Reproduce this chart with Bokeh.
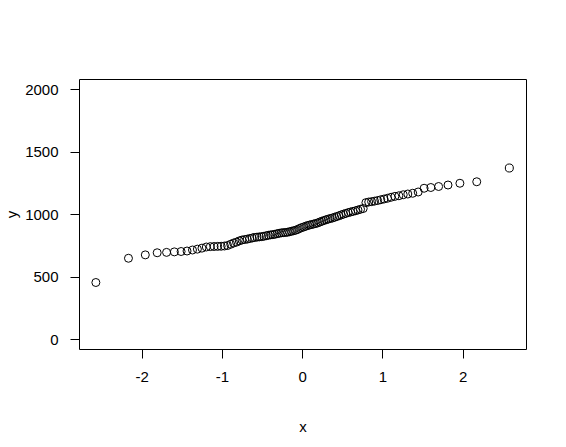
from bokeh.plotting import figure
from bokeh.models import Range1d, FixedTicker
from bokeh.embed import file_html
from bokeh.resources import INLINE

# theoretical normal quantiles (x) and sample values (y)
x_vals = [-2.576, -2.170, -1.960, -1.812, -1.695, -1.598, -1.514, -1.440, -1.372, -1.311,
          -1.254, -1.200, -1.150, -1.103, -1.058, -1.015, -0.974, -0.935, -0.896, -0.860,
          -0.824, -0.789, -0.755, -0.722, -0.690, -0.659, -0.628, -0.598, -0.568, -0.539,
          -0.510, -0.482, -0.454, -0.426, -0.399, -0.372, -0.345, -0.319, -0.292, -0.266,
          -0.240, -0.215, -0.189, -0.164, -0.138, -0.113, -0.088, -0.063, -0.038, -0.013,
          0.013, 0.038, 0.063, 0.088, 0.113, 0.138, 0.164, 0.189, 0.215, 0.240,
          0.266, 0.292, 0.319, 0.345, 0.372, 0.399, 0.426, 0.454, 0.482, 0.510,
          0.539, 0.568, 0.598, 0.628, 0.659, 0.690, 0.722, 0.755, 0.789, 0.824,
          0.860, 0.896, 0.935, 0.974, 1.015, 1.058, 1.103, 1.150, 1.200, 1.254,
          1.311, 1.372, 1.440, 1.514, 1.598, 1.695, 1.812, 1.960, 2.170, 2.576]
y_vals = [456, 650, 677, 694, 697, 701, 704, 708, 716, 723,
          731, 740, 743, 744, 745, 746, 748, 752, 762, 772,
          779, 789, 796, 800, 803, 808, 812, 816, 819, 821,
          823, 826, 830, 834, 837, 839, 842, 846, 850, 853,
          855, 856, 858, 862, 866, 870, 874, 880, 888, 895,
          900, 906, 912, 916, 920, 924, 928, 933, 940, 946,
          952, 958, 963, 968, 972, 978, 984, 990, 997, 1003,
          1009, 1015, 1020, 1025, 1030, 1036, 1042, 1048, 1095, 1100,
          1103, 1107, 1112, 1118, 1124, 1130, 1138, 1145, 1150, 1158,
          1164, 1170, 1180, 1210, 1216, 1224, 1236, 1250, 1262, 1372]
x_ticks = [-2, -1, 0, 1, 2]
x_tick_labels = ["-2", "-1", "0", "1", "2"]
y_ticks = [0, 500, 1000, 1500, 2000]

FONT = "Liberation Sans"

p = figure(width=558, height=439, output_backend="svg", toolbar_location=None,
           x_range=Range1d(-2.78, 2.79), y_range=Range1d(-80, 2080),
           min_border_left=79, min_border_right=32, min_border_top=79, min_border_bottom=90)
p.grid.visible = False
p.outline_line_color = "black"
p.outline_line_width = 1
p.background_fill_color = "white"
p.border_fill_color = "white"

p.scatter(x_vals, y_vals, size=8, marker="circle", fill_color=None,
          line_color="black", line_width=1)

for ax, ticks, label in ((p.xaxis[0], x_ticks, "x"), (p.yaxis[0], y_ticks, "y")):
    ax.ticker = FixedTicker(ticks=ticks)
    ax.axis_line_color = None
    ax.major_tick_line_color = "black"
    ax.major_tick_in = 0
    ax.major_tick_out = 9
    ax.minor_tick_line_color = None
    ax.major_label_text_font = FONT
    ax.major_label_text_font_size = "15px"
    ax.major_label_text_color = "black"
    ax.axis_label = label
    ax.axis_label_text_font = FONT
    ax.axis_label_text_font_size = "15px"
    ax.axis_label_text_font_style = "normal"
    ax.axis_label_text_color = "black"

p.xaxis.major_label_overrides = {t: s for t, s in zip(x_ticks, x_tick_labels)}
p.xaxis.major_label_standoff = 13
p.yaxis.major_label_standoff = 12
p.yaxis.major_label_orientation = "horizontal"
p.xaxis.axis_label_standoff = 33
p.yaxis.axis_label_standoff = 2

open("out.html", "w").write(file_html(p, INLINE))
